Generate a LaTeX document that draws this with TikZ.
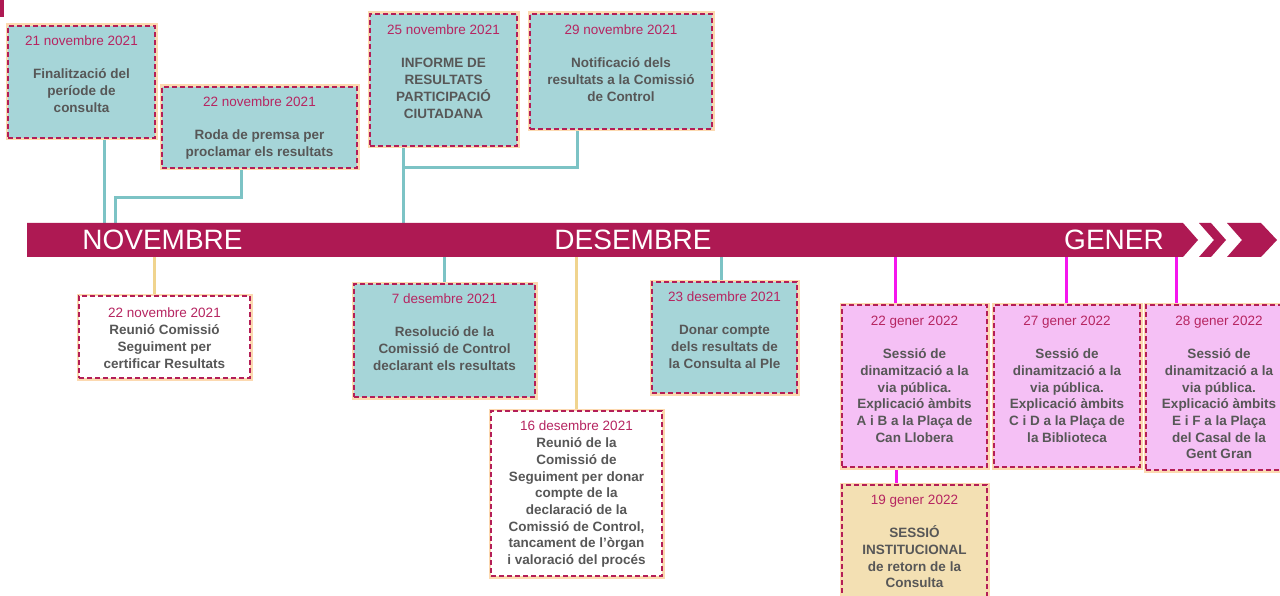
\documentclass[tikz,border=0pt]{standalone}
\usepackage{fontspec}
\setmainfont{Liberation Sans}
\pgfdeclarelayer{background}
\pgfsetlayers{background,main}
\definecolor{bandcol}{HTML}{AE1953}
\definecolor{tealfill}{HTML}{A6D5D8}
\definecolor{pinkfill}{HTML}{F5C0F5}
\definecolor{beigefill}{HTML}{F3E0B3}
\definecolor{bordercol}{HTML}{B41E57}
\definecolor{glowcol}{HTML}{FCD9B0}
\definecolor{tealline}{HTML}{7CC3C5}
\definecolor{yellowline}{HTML}{F0D48E}
\definecolor{magline}{HTML}{F516EE}
\definecolor{datecol}{HTML}{B62561}
\definecolor{bodycol}{HTML}{575757}
\newcommand\datel[1]{{\mdseries\color{datecol}#1}}
\tikzset{
  box/.style={rectangle, inner sep=0pt, draw=bordercol, dash pattern=on 5pt off 3pt,
    line width=1.6pt, preaction={draw=glowcol, solid, line width=5pt}},
  tealbox/.style={box, fill=tealfill},
  whitebox/.style={box, fill=white},
  pinkbox/.style={box, fill=pinkfill},
  beigebox/.style={box, fill=beigefill},
  txt/.style={anchor=north, align=center, inner sep=0pt, text=bodycol,
    font=\fontsize{13.5}{16.7}\selectfont\bfseries},
  month/.style={anchor=base, text=white, inner sep=0pt, font=\fontsize{28}{30}\selectfont},
  tl/.style={draw=tealline, line width=3pt},
  yl/.style={draw=yellowline, line width=3pt},
  ml/.style={draw=magline, line width=3pt},
  bandshape/.style={fill=bandcol, draw=none},
}
\begin{document}
\begin{tikzpicture}[x=1pt, y=-1pt]
\useasboundingbox (0,0) rectangle (1280,596);
\clip (0,0) rectangle (1280,596);
% top-left mark
\fill[bandcol] (0,0) rectangle (4,17);
% band
\fill[bandshape] (27,223) -- (1183,223) -- (1198,240) -- (1183,257) -- (27,257) -- cycle;
\fill[bandshape] (1199,223) -- (1211,223) -- (1226,240) -- (1211,257) -- (1199,257) -- (1214,240) -- cycle;
\fill[bandshape] (1227,223) -- (1261,223) -- (1277,240) -- (1261,257) -- (1227,257) -- (1242,240) -- cycle;
\coordinate (bt) at (0,223);
\coordinate (bb) at (0,257);
\node[month] (nov) at (162.5,250) {NOVEMBRE};
\node[month] (des) at (633,250) {DESEMBRE};
\node[month] (gen) at (1114,250) {GENER};

% boxes
\node[tealbox, minimum width=147pt, minimum height=112pt] (A) at (81.5,82) {};
\node[tealbox, minimum width=195pt, minimum height=81pt] (B) at (259.5,127.5) {};
\node[tealbox, minimum width=147pt, minimum height=132pt] (C) at (443.5,80) {};
\node[tealbox, minimum width=182pt, minimum height=115pt] (D) at (621,71.5) {};
\node[whitebox, minimum width=171pt, minimum height=82pt] (E) at (164.5,337) {};
\node[tealbox, minimum width=181pt, minimum height=113pt] (F) at (444.5,340.5) {};
\node[whitebox, minimum width=171pt, minimum height=165pt] (G) at (576.5,493.5) {};
\node[tealbox, minimum width=145pt, minimum height=111pt] (H) at (724.5,337.5) {};
\node[pinkbox, minimum width=145pt, minimum height=162pt] (I) at (914.5,386) {};
\node[pinkbox, minimum width=146pt, minimum height=162pt] (J) at (1067,386) {};
\node[pinkbox, minimum width=146pt, minimum height=165pt] (K) at (1219,387.5) {};
\node[beigebox, minimum width=145pt, minimum height=135pt] (L) at (914.5,552.5) {};

% texts
\node[txt] (At) at (81.5,36) {\datel{21 novembre 2021}\\[16.3pt]Finalització del\\període de\\consulta};
\node[txt] (Bt) at (259.5,97) {\datel{22 novembre 2021}\\[16.3pt]Roda de premsa per\\proclamar els resultats};
\node[txt] (Ct) at (443.5,25) {\datel{25 novembre 2021}\\[16.3pt]INFORME DE\\RESULTATS\\PARTICIPACIÓ\\CIUTADANA};
\node[txt] (Dt) at (621,25) {\datel{29 novembre 2021}\\[16.3pt]Notificació dels\\resultats a la Comissió\\de Control};
\node[txt] (Et) at (164.5,308) {\datel{22 novembre 2021}\\Reunió Comissió\\Seguiment per\\certificar Resultats};
\node[txt] (Ft) at (444.5,294) {\datel{7 desembre 2021}\\[16.3pt]Resolució de la\\Comissió de Control\\declarant els resultats};
\node[txt] (Gt) at (576.5,421) {\datel{16 desembre 2021}\\Reunió de la\\Comissió de\\Seguiment per donar\\compte de la\\declaració de la\\Comissió de Control,\\tancament de l’òrgan\\i valoració del procés};
\node[txt] (Ht) at (724.5,292) {\datel{23 desembre 2021}\\[16.3pt]Donar compte\\dels resultats de\\la Consulta al Ple};
\node[txt] (It) at (914.5,316) {\datel{22 gener 2022}\\[16.3pt]Sessió de\\dinamització a la\\via pública.\\Explicació àmbits\\A i B a la Plaça de\\Can Llobera};
\node[txt] (Jt) at (1067,316) {\datel{27 gener 2022}\\[16.3pt]Sessió de\\dinamització a la\\via pública.\\Explicació àmbits\\C i D a la Plaça de\\la Biblioteca};
\node[txt] (Kt) at (1219,316) {\datel{28 gener 2022}\\[16.3pt]Sessió de\\dinamització a la\\via pública.\\Explicació àmbits\\E i F a la Plaça\\del Casal de la\\Gent Gran};
\node[txt] (Lt) at (914.5,495) {\datel{19 gener 2022}\\[16.3pt]SESSIÓ\\INSTITUCIONAL\\de retorn de la\\Consulta};

% connector anchor points
\coordinate (a1) at ([xshift=22.5pt]A.south);
\coordinate (b1) at ([xshift=-18.5pt]B.south);
\coordinate (bj) at (115,198);
\coordinate (c1) at ([xshift=-40.5pt]C.south);
\coordinate (d1) at ([xshift=-44pt]D.south);
\coordinate (e1) at ([xshift=-10.5pt]E.north);
\coordinate (f1) at (F.north);
\coordinate (g1) at (G.north);
\coordinate (h1) at ([xshift=-3.5pt]H.north);
\coordinate (i1) at ([xshift=-19.5pt]I.north);
\coordinate (i2) at ([xshift=-18.5pt]I.south);
\coordinate (j1) at ([xshift=-1pt]J.north);
\coordinate (k1) at ([xshift=-43pt]K.north);

\begin{pgfonlayer}{background}
\draw[tl] (a1) -- (a1 |- bt);
\draw[tl] (b1) |- (bj) -- (bj |- bt);
\draw[tl] (c1) -- (c1 |- bt);
\draw[tl] (d1) |- (c1 |- 0,168);
\draw[yl] (e1) -- (e1 |- bb);
\draw[tl] (f1) -- (f1 |- bb);
\draw[yl] (g1) -- (g1 |- bb);
\draw[tl] (h1) -- (h1 |- bb);
\draw[ml] (i1) -- (i1 |- bb);
\draw[ml] (i2) -- (i2 |- L.north);
\draw[ml] (j1) -- (j1 |- bb);
\draw[ml] (k1) -- (k1 |- bb);
\end{pgfonlayer}
\end{tikzpicture}
\end{document}
